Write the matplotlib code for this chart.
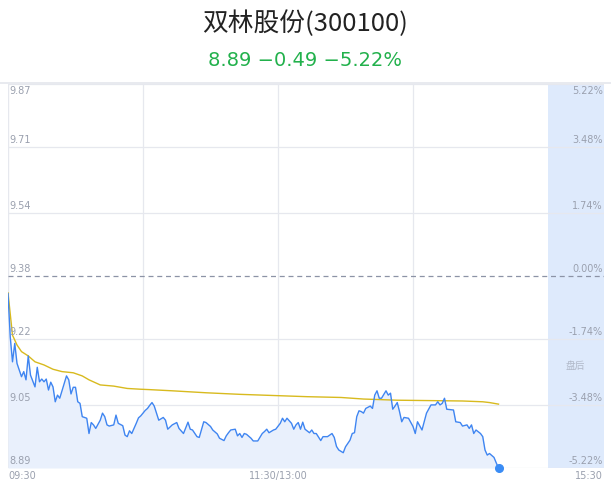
import numpy as np
import matplotlib
matplotlib.use("Agg")
import matplotlib.pyplot as plt

plt.rcParams['font.family'] = ['Noto Sans CJK SC', 'DejaVu Sans']

# price curve (minute since 09:30, price)
minutes = [0, 1, 2, 3, 4, 6, 7, 8, 9, 10, 12, 13, 14, 15, 16, 17, 18, 19, 20, 21,
           22, 23, 25, 26, 27, 28, 29, 30, 31, 32, 33, 35, 36, 37, 38, 39, 41, 42, 43, 44,
           45, 47, 48, 49, 51, 52, 53, 54, 55, 57, 58, 59, 61, 62, 63, 64, 65, 66, 67, 69,
           70, 71, 73, 75, 76, 78, 80, 81, 82, 84, 85, 87, 88, 90, 91, 93, 94, 96, 97, 98,
           99, 101, 102, 103, 104, 105, 106, 108, 109, 111, 113, 114, 115, 116, 118, 119, 121, 122, 123, 124,
           126, 127, 128, 129, 130, 131, 132, 134, 135, 136, 137, 139, 140, 142, 144, 145, 146, 147, 149, 150,
           152, 153, 154, 155, 156, 157, 158, 159, 161, 162, 163, 164, 165, 166, 168, 169, 170, 171, 172, 173,
           174, 175, 176, 178, 180, 181, 182, 184, 185, 186, 188, 190, 191, 192, 193, 194, 195, 198, 199, 201,
           202, 204, 205, 206, 207, 208, 210, 211, 212, 213, 214, 216, 217, 218]
prices = [9.335, 9.224, 9.161, 9.208, 9.157, 9.123, 9.136, 9.115, 9.176, 9.127, 9.097, 9.147, 9.110, 9.117, 9.110, 9.117, 9.089, 9.109, 9.097, 9.059,
          9.076, 9.068, 9.106, 9.125, 9.115, 9.079, 9.096, 9.096, 9.059, 9.055, 9.021, 9.017, 8.978, 9.006, 9.000, 8.991, 9.012, 9.030, 9.021, 9.000,
          8.997, 9.000, 9.025, 9.004, 8.998, 8.974, 8.970, 8.985, 8.978, 9.004, 9.018, 9.023, 9.037, 9.042, 9.050, 9.057, 9.048, 9.030, 9.012, 9.019,
          9.012, 8.989, 9.000, 9.006, 8.991, 8.978, 9.007, 8.989, 8.987, 8.970, 8.968, 9.008, 9.006, 8.996, 8.987, 8.977, 8.966, 8.960, 8.972, 8.980,
          8.987, 8.989, 8.972, 8.978, 8.968, 8.978, 8.976, 8.966, 8.959, 8.959, 8.978, 8.983, 8.989, 8.980, 8.987, 8.989, 9.004, 9.017, 9.008, 9.017,
          9.004, 8.989, 9.000, 9.006, 8.989, 9.007, 8.989, 8.980, 8.987, 8.978, 8.978, 8.960, 8.970, 8.970, 8.978, 8.968, 8.945, 8.936, 8.929, 8.944,
          8.961, 8.978, 8.980, 9.021, 9.036, 9.034, 9.030, 9.042, 9.048, 9.042, 9.076, 9.087, 9.068, 9.068, 9.087, 9.076, 9.081, 9.040, 9.048, 9.057,
          9.034, 9.008, 9.019, 9.017, 8.996, 8.978, 9.008, 8.987, 9.008, 9.030, 9.051, 9.051, 9.059, 9.051, 9.055, 9.068, 9.040, 9.038, 9.008, 9.006,
          8.997, 9.000, 8.991, 9.000, 8.978, 8.987, 8.978, 8.970, 8.936, 8.923, 8.927, 8.917, 8.903, 8.890]

# average price curve
avg_minutes = [0, 2, 4, 6, 9, 12, 16, 20, 24, 29, 33, 36, 41, 47, 53, 59, 63, 73, 88, 103,
               118, 133, 148, 158, 173, 188, 202, 211, 214, 218]
avg_prices = [9.337, 9.229, 9.204, 9.187, 9.176, 9.161, 9.153, 9.142, 9.136, 9.133, 9.125, 9.115, 9.102, 9.099, 9.093, 9.091, 9.090, 9.087, 9.082, 9.078,
              9.075, 9.072, 9.070, 9.066, 9.063, 9.062, 9.061, 9.059, 9.057, 9.053]

price_ticks = [9.87, 9.71, 9.54, 9.38, 9.22, 9.05, 8.89]
pct_ticks = ['5.22%', '3.48%', '1.74%', '0.00%', '-1.74%', '-3.48%', '-5.22%']
pre_close = 9.38
title = '双林股份(300100)'
subtitle = '8.89 \u22120.49 \u22125.22%'

W, H = 611, 492
fig = plt.figure(figsize=(W / 100, H / 100), dpi=100)
fig.patch.set_facecolor('white')

# axes: x 8..604 px, y 84..468 px
ax = fig.add_axes([8 / W, (H - 468) / H, 596 / W, 384 / H])
xmax = 240 * 596 / 540
ymin, ymax = 8.89, 9.87
ax.set_xlim(0, xmax)
ax.set_ylim(ymin, ymax)
ax.set_xticks([])
ax.set_yticks([])
for s in ax.spines.values():
    s.set_visible(False)

grid_c = '#e6e8ee'
ax.axvspan(240, xmax, color='#deeafc', lw=0, zorder=0)
for t in [60, 120, 180]:
    ax.axvline(t, color=grid_c, lw=0.9, zorder=1)
for p in price_ticks:
    if p == pre_close:
        ax.axhline(p, color='#8c93a6', lw=0.9, ls=(0, (4, 3)), zorder=2)
    else:
        ax.axhline(p, color=grid_c, lw=0.9, zorder=1)
ax.axvline(0, color=grid_c, lw=1.0, zorder=1)

ax.fill_between(minutes, prices, ymin, color='#e9f0fc', lw=0, zorder=2)
ax.plot(avg_minutes, avg_prices, color='#d8ba1e', lw=1.0, zorder=3)
ax.plot(minutes, prices, color='#3f85f1', lw=1.0, zorder=4)
ax.plot(minutes[-1], prices[-1], 'o', color='#3a8cf5', ms=5.5, zorder=5, clip_on=False)

lab_c = '#9aa0ae'
for i, (p, pct) in enumerate(zip(price_ticks, pct_ticks)):
    va = 'top' if i == 0 else 'bottom'
    dy = -1.5 if i == 0 else 1.5
    ax.annotate(f'{p:.2f}', (0, p), xytext=(1, dy), textcoords='offset points',
                ha='left', va=va, fontsize=7, color=lab_c, family=['DejaVu Sans'])
    ax.annotate(pct, (1, p), xycoords=('axes fraction', 'data'), xytext=(-1, dy),
                textcoords='offset points', ha='right', va=va, fontsize=7,
                color=lab_c, family=['DejaVu Sans'])

ax.text(252, 9.15, '盘后', ha='center', va='center', fontsize=7, color='#b0b8c8')

fig.text(8 / W, (H - 476) / H, '09:30', ha='left', va='center', fontsize=7, color=lab_c, family=['DejaVu Sans'])
fig.text(278 / W, (H - 476) / H, '11:30/13:00', ha='center', va='center', fontsize=7, color=lab_c, family=['DejaVu Sans'])
fig.text(603 / W, (H - 476) / H, '15:30', ha='right', va='center', fontsize=7, color=lab_c, family=['DejaVu Sans'])

# top border line
fig.add_artist(plt.Line2D([0, 1], [(H - 83) / H, (H - 83) / H], color='#e4e6ec', lw=1.2))

fig.text(0.5, (H - 24) / H, title, ha='center', va='center', fontsize=18.5, color='#222222')
fig.text(0.5, (H - 60) / H, subtitle, ha='center', va='center', fontsize=14, color='#22b14c',
         family=['DejaVu Sans'])

fig.savefig('out.png', dpi=100, facecolor='white')
